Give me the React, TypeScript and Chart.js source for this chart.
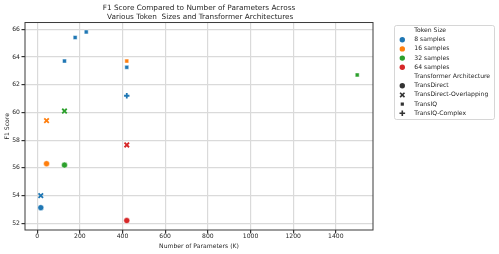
import React, { useEffect, useRef } from 'react';
import { Chart, registerables } from 'chart.js';

Chart.register(...registerables);

const titleLines = [
  'F1 Score Compared to Number of Parameters Across',
  ' Various Token  Sizes and Transformer Architectures',
];
const tokenSizes = ['8 samples', '16 samples', '32 samples', '64 samples'];
const tokenColors = ['#1f77b4', '#ff7f0e', '#2ca02c', '#d62728'];
const architectures = ['TransDirect', 'TransDirect-Overlapping', 'TransIQ', 'TransIQ-Complex'];
const archStyles = ['circle', 'crossRot', 'rect', 'cross'];

// one entry per point
const paramsK = [17, 17, 44, 44, 128, 128, 420, 420, 128, 178, 230, 420, 420, 1500, 420];
const f1Scores = [53.13, 54.0, 56.3, 59.4, 56.2, 60.1, 52.2, 57.65, 63.7, 65.4, 65.8, 63.25, 63.7, 62.7, 61.2];
const pointToken = [0, 0, 1, 1, 2, 2, 3, 3, 0, 0, 0, 0, 1, 2, 0];
const pointArch = [0, 1, 0, 1, 0, 1, 0, 1, 2, 2, 2, 2, 2, 2, 3];

const xTicks = [0, 200, 400, 600, 800, 1000, 1200, 1400];
const yTicks = [52, 54, 56, 58, 60, 62, 64, 66];

const FONT = "'DejaVu Sans', sans-serif";
const TEXT = '#262626';

const framePlugin = {
  id: 'frame',
  beforeDatasetsDraw(chart: any) {
    const { ctx, chartArea: a } = chart;
    ctx.save();
    ctx.strokeStyle = '#3a3a3a';
    ctx.lineWidth = 1;
    ctx.strokeRect(a.left, a.top, a.right - a.left, a.bottom - a.top);
    ctx.restore();
  },
};

function drawMarker(ctx: CanvasRenderingContext2D, style: string, x: number, y: number, color: string) {
  ctx.save();
  ctx.fillStyle = color;
  ctx.strokeStyle = color;
  if (style === 'circle') {
    ctx.beginPath();
    ctx.arc(x, y, 2.7, 0, Math.PI * 2);
    ctx.fill();
  } else if (style === 'rect') {
    ctx.fillRect(x - 1.6, y - 1.6, 3.2, 3.2);
  } else if (style === 'crossRot') {
    ctx.lineWidth = 1.6;
    const r = 2.2;
    ctx.beginPath();
    ctx.moveTo(x - r, y - r);
    ctx.lineTo(x + r, y + r);
    ctx.moveTo(x - r, y + r);
    ctx.lineTo(x + r, y - r);
    ctx.stroke();
  } else if (style === 'cross') {
    ctx.lineWidth = 1.6;
    const r = 2.8;
    ctx.beginPath();
    ctx.moveTo(x - r, y);
    ctx.lineTo(x + r, y);
    ctx.moveTo(x, y - r);
    ctx.lineTo(x, y + r);
    ctx.stroke();
  }
  ctx.restore();
}

const legendPlugin = {
  id: 'sideLegend',
  afterDraw(chart: any) {
    const ctx: CanvasRenderingContext2D = chart.ctx;
    const left = 394, top = 25, w = 100, h = 94;
    ctx.save();
    ctx.beginPath();
    (ctx as any).roundRect(left + 0.5, top + 0.5, w, h, 2);
    ctx.fillStyle = 'rgba(255,255,255,0.8)';
    ctx.fill();
    ctx.strokeStyle = '#cccccc';
    ctx.lineWidth = 0.8;
    ctx.stroke();

    const items: { label: string; style?: string; color?: string }[] = [];
    items.push({ label: 'Token Size' });
    tokenSizes.forEach((t, i) => items.push({ label: t, style: 'circle', color: tokenColors[i] }));
    items.push({ label: 'Transformer Architecture' });
    architectures.forEach((a, i) => items.push({ label: a, style: archStyles[i], color: '#333333' }));

    ctx.font = `6.1px ${FONT}`;
    ctx.textBaseline = 'middle';
    ctx.textAlign = 'left';
    ctx.fillStyle = TEXT;
    items.forEach((it, i) => {
      const y = 30.5 + i * 9.2;
      if (it.style) drawMarker(ctx, it.style, 402.3, y, it.color as string);
      ctx.fillStyle = TEXT;
      ctx.fillText(it.label, 414.3, y);
    });
    ctx.restore();
  },
};

export default function App() {
  const ref = useRef<HTMLCanvasElement | null>(null);

  useEffect(() => {
    if (!ref.current) return;
    const datasets = architectures.map((arch, ai) => {
      const idx = paramsK.map((_, i) => i).filter((i) => pointArch[i] === ai);
      const colors = idx.map((i) => tokenColors[pointToken[i]]);
      const style = archStyles[ai];
      const stroked = style === 'crossRot' || style === 'cross';
      const radius = style === 'circle' ? 3 : style === 'rect' ? 2.8 : style === 'crossRot' ? 3.2 : 2.7;
      return {
        label: arch,
        data: idx.map((i) => ({ x: paramsK[i], y: f1Scores[i] })),
        pointStyle: style,
        pointRadius: radius,
        pointBackgroundColor: colors,
        pointBorderColor: stroked ? colors : '#ffffff',
        pointBorderWidth: stroked ? 1.8 : 0.5,
        showLine: false,
      };
    });

    const chart = new Chart(ref.current, {
      type: 'scatter',
      data: { datasets },
      plugins: [framePlugin, legendPlugin],
      options: {
        animation: false,
        responsive: false,
        devicePixelRatio: 1,
        events: [],
        layout: { padding: { left: 0, right: 126, top: 0, bottom: 0 } },
        plugins: {
          legend: { display: false },
          tooltip: { enabled: false },
          title: {
            display: true,
            text: titleLines,
            fullSize: false,
            color: TEXT,
            font: { family: FONT, size: 7.3, weight: 'normal', lineHeight: 1.2 },
            padding: { top: 3.5, bottom: 1.5 },
          },
        },
        scales: {
          x: {
            type: 'linear',
            min: -57,
            max: 1574,
            afterBuildTicks: (axis: any) => {
              axis.ticks = xTicks.map((v) => ({ value: v }));
            },
            afterFit: (s: any) => {
              s.height = 24;
            },
            ticks: {
              autoSkip: false,
              maxRotation: 0,
              color: TEXT,
              padding: -0.5,
              font: { family: FONT, size: 6.1 },
              callback: (v: any) => String(v),
            },
            grid: { color: '#dadada', lineWidth: 1.2, tickLength: 3.5, tickColor: '#333333' },
            border: { display: false },
            title: {
              display: true,
              text: 'Number of Parameters (K)',
              color: TEXT,
              font: { family: FONT, size: 6.1 },
              padding: { top: 0, bottom: 4 },
            },
          },
          y: {
            type: 'linear',
            min: 51.52,
            max: 66.48,
            afterBuildTicks: (axis: any) => {
              axis.ticks = yTicks.map((v) => ({ value: v }));
            },
            afterFit: (s: any) => {
              s.width = 25;
            },
            ticks: {
              autoSkip: false,
              color: TEXT,
              padding: 1.5,
              font: { family: FONT, size: 6.1 },
              callback: (v: any) => String(v),
            },
            grid: { color: '#dadada', lineWidth: 1.2, tickLength: 3.5, tickColor: '#333333' },
            border: { display: false },
            title: {
              display: true,
              text: 'F1 Score',
              color: TEXT,
              font: { family: FONT, size: 6.1 },
              padding: { top: 3.3, bottom: 0 },
            },
          },
        },
      } as any,
    });
    return () => chart.destroy();
  }, []);

  return (
    <div style={{ position: 'fixed', left: 0, top: 0, width: 499, height: 254, background: '#ffffff' }}>
      <canvas ref={ref} width={499} height={254} style={{ display: 'block', width: 499, height: 254 }} />
    </div>
  );
}
